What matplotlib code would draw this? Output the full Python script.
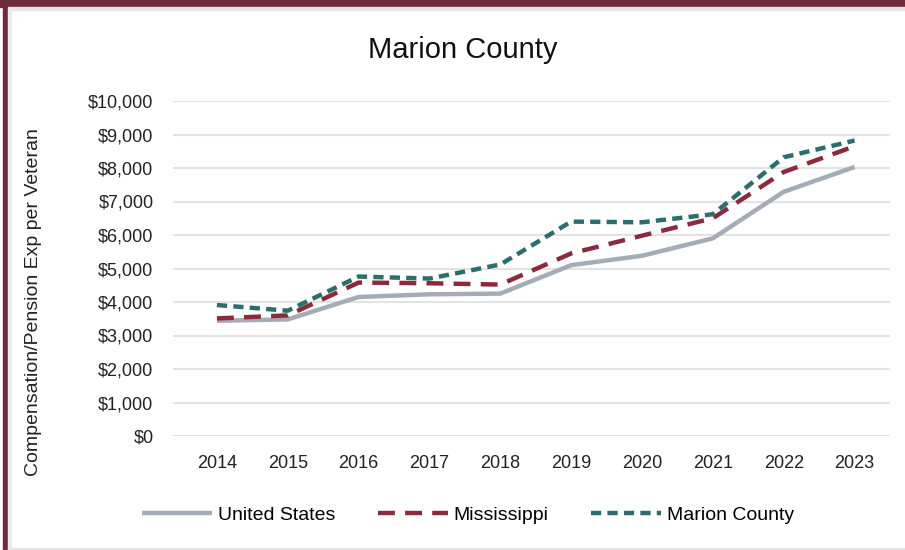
import matplotlib.pyplot as plt
from matplotlib.patches import Rectangle
from matplotlib.ticker import FuncFormatter

# values
years = [2014, 2015, 2016, 2017, 2018, 2019, 2020, 2021, 2022, 2023]
united_states = [3440, 3480, 4150, 4230, 4250, 5100, 5380, 5900, 7290, 8030]
mississippi = [3510, 3600, 4580, 4560, 4520, 5450, 5980, 6500, 7880, 8650]
marion_county = [3910, 3740, 4760, 4700, 5120, 6400, 6380, 6620, 8320, 8820]

plt.rcParams['font.family'] = ['Liberation Sans', 'DejaVu Sans']

fig = plt.figure(figsize=(9.05, 5.5), dpi=100)

# frame: dark red band on top and left, faint shadow lines
frame_col = '#6e2b3c'
fig.patches.append(Rectangle((0, 1 - 7 / 550), 1, 7 / 550, transform=fig.transFigure,
                             color=frame_col, zorder=0))
fig.patches.append(Rectangle((3 / 905, 0), 5 / 905, 1, transform=fig.transFigure,
                             color=frame_col, zorder=0))
fig.patches.append(Rectangle((8 / 905, 1 - 10 / 550), 1, 3 / 550, transform=fig.transFigure,
                             color='#e6e6e6', zorder=0))
fig.patches.append(Rectangle((8 / 905, 0), 3 / 905, 1 - 10 / 550, transform=fig.transFigure,
                             color='#ececec', zorder=0))
fig.patches.append(Rectangle((8 / 905, 1 / 550), 1, 1.5 / 550, transform=fig.transFigure,
                             color='#e6e6e6', zorder=0))

ax = fig.add_axes([173 / 905, 1 - 436 / 550, 717 / 905, 335 / 550])

x = list(range(len(years)))
ax.plot(x, united_states, color='#a5acb5', lw=3.2, label='United States', solid_capstyle='butt')
ax.plot(x, mississippi, color='#8b2a3d', lw=3.2, dashes=(3.8, 2.3), label='Mississippi')
ax.plot(x, marion_county, color='#2b6e6c', lw=3.2, dashes=(2.3, 1.4), label='Marion County')

ax.set_ylim(0, 10000)
ax.set_xlim(-0.62, len(years) - 1 + 0.5)
ax.set_yticks(range(0, 10001, 1000))
ax.yaxis.set_major_formatter(FuncFormatter(lambda v, p: f'${v:,.0f}'))
ax.set_xticks(x)
ax.set_xticklabels([str(y) for y in years])
ax.grid(axis='y', color='#e3e3e3', lw=1.5)
ax.set_axisbelow(True)
for s in ax.spines.values():
    s.set_visible(False)
ax.tick_params(length=0, labelsize=13, colors='#222222')
ax.tick_params(axis='y', pad=14)
ax.tick_params(axis='x', pad=14)

ax.set_ylabel('Compensation/Pension Exp per Veteran', fontsize=14, color='#222222')
ax.yaxis.set_label_coords(-0.183, 0.40)

fig.text(463 / 905, 1 - 50 / 550, 'Marion County', fontsize=21, ha='center', va='center', color='#111111')

fig.legend(loc='center', bbox_to_anchor=(468 / 905, 1 - 515 / 550), ncol=3, frameon=False,
           fontsize=14, handlelength=3.6, columnspacing=2.2, handletextpad=0.3)

fig.savefig('out.png', dpi=100, facecolor='white')
